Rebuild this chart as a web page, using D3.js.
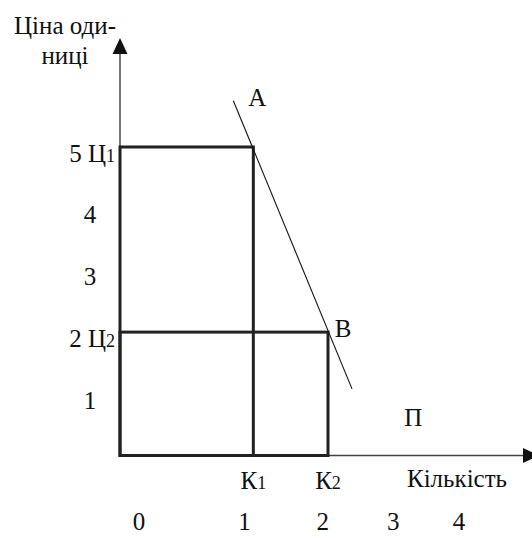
<!DOCTYPE html>
<html><head><meta charset="utf-8">
<script src="https://cdn.jsdelivr.net/npm/d3@7"></script>
<style>html,body{margin:0;padding:0;background:#fff;}svg{display:block;}
text{font-family:"Liberation Serif","DejaVu Serif","Times New Roman",serif;fill:#111;}</style>
</head><body><svg id="c" width="532" height="538"></svg>
<script>
// ---- data ----
const priceTicks = [1, 2, 3, 4, 5];
const priceLevels = [5, 2];           // Ц1, Ц2
const priceNames = ["Ц", "Ц"];
const priceSubs = ["1", "2"];
const qtyLevels = [2, 3.12];          // К1, К2
const qtyNames = ["К", "К"];
const qtySubs = ["1", "2"];
const demandQ = [1.70, 3.48];         // line A–B endpoints
const demandP = [5.75, 1.08];
const pointNames = ["А", "В"];
const bottomLabels = ["0", "1", "2", "3", "4"];
const profitLabel = ["П"];
const profitQ = [4.4], profitP = [0.62];
const titleLines = ["Ціна оди-", "ниці"];
const xTitle = "Кількість";

// ---- scales ----
const x = d3.scaleLinear().domain([0, 6]).range([120, 520]);
const y = d3.scaleLinear().domain([0, 5]).range([455.5, 147]);
const xb = d3.scalePow().exponent(0.8).domain([0, 4]).range([139, 459]);

const svg = d3.select("#c");
const FS = 25;

// axes
svg.append("line").attr("x1", x(0)).attr("x2", 524).attr("y1", y(0)).attr("y2", y(0))
  .attr("stroke", "#444").attr("stroke-width", 1.6);
svg.append("line").attr("x1", x(0)).attr("x2", x(0)).attr("y1", y(0)).attr("y2", 53)
  .attr("stroke", "#555").attr("stroke-width", 1.6);
svg.append("path").attr("d", `M${x(0)},38 L${x(0)-7.5},54 L${x(0)+7.5},54 Z`).attr("fill", "#111");
svg.append("path").attr("d", `M539,${y(0)} L523,${y(0)-7.5} L523,${y(0)+7.5} Z`).attr("fill", "#111");

// rectangles (revenue areas)
qtyLevels.forEach((q, i) => {
  svg.append("rect").attr("x", x(0)).attr("y", y(priceLevels[i]))
    .attr("width", x(q) - x(0)).attr("height", y(0) - y(priceLevels[i]))
    .attr("fill", "none").attr("stroke", "#222").attr("stroke-width", 3);
});

// demand line
const line = d3.line().x((d, i) => x(demandQ[i])).y((d, i) => y(demandP[i]));
svg.append("path").attr("d", line(demandQ)).attr("fill", "none")
  .attr("stroke", "#111").attr("stroke-width", 1.1);

// y tick labels
priceTicks.forEach(v => {
  const k = priceLevels.indexOf(v);
  const t = svg.append("text").attr("y", y(v) + 6).attr("dy", "0.35em").attr("font-size", FS);
  if (k >= 0) {
    t.attr("x", 115).attr("text-anchor", "end");
    t.append("tspan").text(v + " " + priceNames[k]);
    t.append("tspan").attr("font-size", FS * 0.72).text(priceSubs[k]);
  } else {
    t.attr("x", 90).attr("text-anchor", "middle").text(v);
  }
});

// K labels
qtyLevels.forEach((q, i) => {
  const t = svg.append("text").attr("x", x(q)).attr("y", 480).attr("dy", "0.35em")
    .attr("text-anchor", "middle").attr("font-size", FS);
  t.append("tspan").text(qtyNames[i]);
  t.append("tspan").attr("font-size", FS * 0.72).text(qtySubs[i]);
});

// point labels A, B
svg.append("text").attr("x", x(demandQ[0]) + 24).attr("y", y(demandP[0]) - 3).attr("dy", "0.35em")
  .attr("text-anchor", "middle").attr("font-size", FS).text(pointNames[0]);
svg.append("text").attr("x", x(qtyLevels[1]) + 15).attr("y", y(priceLevels[1]) - 4).attr("dy", "0.35em")
  .attr("text-anchor", "middle").attr("font-size", FS).text(pointNames[1]);

// profit label
svg.append("text").attr("x", x(profitQ[0])).attr("y", y(profitP[0])).attr("dy", "0.35em")
  .attr("text-anchor", "middle").attr("font-size", FS).text(profitLabel[0]);

// x title
svg.append("text").attr("x", 457).attr("y", 478).attr("dy", "0.35em")
  .attr("text-anchor", "middle").attr("font-size", FS).text(xTitle);

// y title
titleLines.forEach((s, i) => {
  svg.append("text").attr("x", 65).attr("y", 25 + i * 30).attr("dy", "0.35em")
    .attr("text-anchor", "middle").attr("font-size", FS).text(s);
});

// bottom number row
bottomLabels.forEach((s, i) => {
  svg.append("text").attr("x", xb(i)).attr("y", 521).attr("dy", "0.35em")
    .attr("text-anchor", "middle").attr("font-size", FS).text(s);
});
</script></body></html>
